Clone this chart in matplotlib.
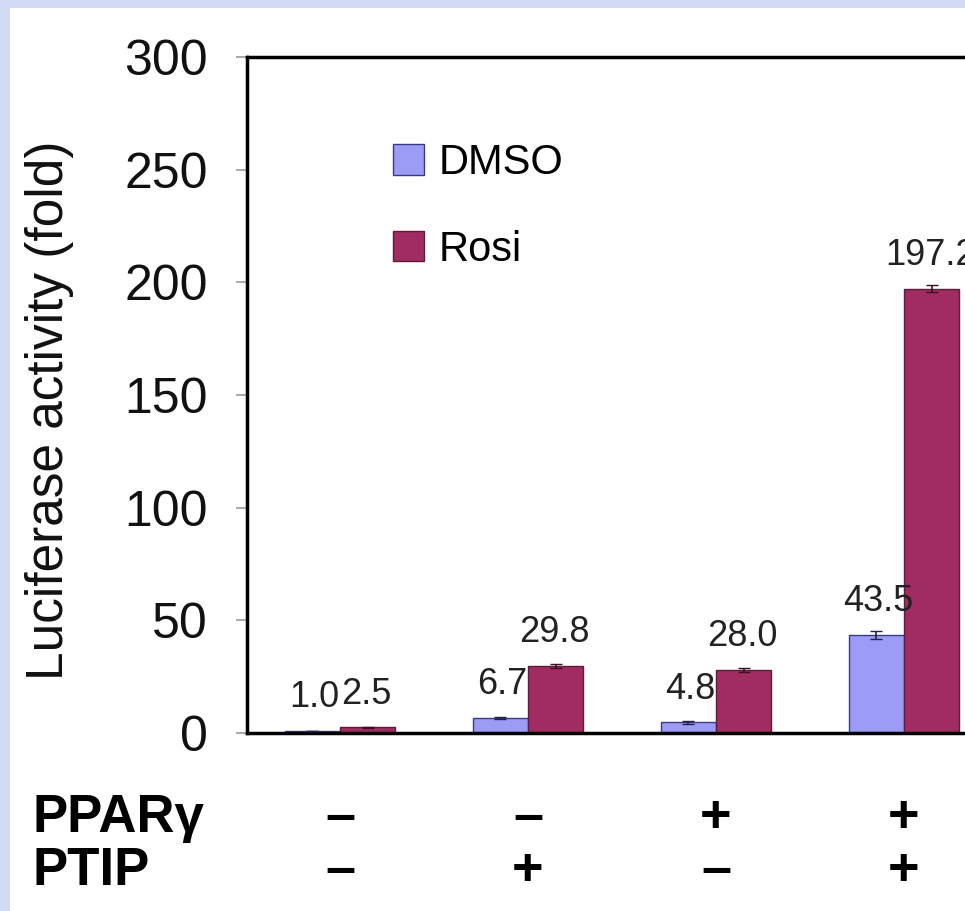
import matplotlib
matplotlib.use("Agg")
import matplotlib.pyplot as plt
import matplotlib.transforms as mtransforms
from matplotlib.patches import Rectangle, Patch
import numpy as np

plt.rcParams['font.family'] = ['Liberation Sans', 'DejaVu Sans']

# ---- data ----
groups = ["1", "2", "3", "4"]
dmso = [1.0, 6.7, 4.8, 43.5]
rosi = [2.5, 29.8, 28.0, 197.2]
dmso_err = [0.1, 0.6, 0.6, 1.8]
rosi_err = [0.3, 0.8, 0.8, 1.5]
dmso_labels = ["1.0", "6.7", "4.8", "43.5"]
rosi_labels = ["2.5", "29.8", "28.0", "197.2"]
ppar_signs = ["–", "–", "+", "+"]
ptip_signs = ["–", "+", "–", "+"]
yticks = [0, 50, 100, 150, 200, 250, 300]
series_names = ["DMSO", "Rosi"]

W, H = 965, 911
fig = plt.figure(figsize=(W / 100, H / 100), dpi=100)
fig.patch.set_facecolor('#D2DAF5')
fig.patches.append(Rectangle((10 / W, 0), 1 - 10 / W, (H - 8) / H,
                             transform=fig.transFigure, facecolor='white',
                             edgecolor='none', zorder=-10))

ax_left, ax_right = 247, 1005
ax_top, ax_bot = 57, 733
ax = fig.add_axes([ax_left / W, (H - ax_bot) / H, (ax_right - ax_left) / W, (ax_bot - ax_top) / H])
ax.set_facecolor('white')

x = np.arange(len(groups))
bw = 0.293
dmso_col = '#9C9CF6'
rosi_col = '#A02C62'
ax.bar(x - bw / 2, dmso, bw, color=dmso_col, edgecolor='#3A3A80', linewidth=1.0, zorder=2)
ax.bar(x + bw / 2, rosi, bw, color=rosi_col, edgecolor='#5A1E3A', linewidth=1.0, zorder=2)
ax.errorbar(x - bw / 2, dmso, yerr=dmso_err, fmt='none', ecolor='#222244', capsize=4, elinewidth=1.2, zorder=3)
ax.errorbar(x + bw / 2, rosi, yerr=rosi_err, fmt='none', ecolor='#3A1020', capsize=4, elinewidth=1.2, zorder=3)

for xi, v, lab in zip(x - bw / 2, dmso, dmso_labels):
    ax.annotate(lab, (xi, v), xytext=(1, 17), textcoords='offset points',
                ha='center', va='baseline', fontsize=26, color='#222222')
for xi, v, lab in zip(x + bw / 2, rosi, rosi_labels):
    ax.annotate(lab, (xi, v), xytext=(-1, 17), textcoords='offset points',
                ha='center', va='baseline', fontsize=26, color='#222222',
                annotation_clip=False)

ax.set_xlim((ax_left - 340) / 188, (ax_right - 340) / 188)
ax.set_ylim(0, 300)
ax.set_yticks(yticks)
ax.set_xticks([])
ax.tick_params(axis='y', length=8, width=1.2, color='#999999', labelcolor='#111111',
               labelsize=36, pad=20)
for s in ['left', 'bottom', 'top']:
    ax.spines[s].set_linewidth(2.5)
    ax.spines[s].set_color('black')
ax.spines['right'].set_visible(False)

fig.text(50 / W, (H - 410) / H, "Luciferase activity (fold)", rotation=90,
         ha='center', va='center', fontsize=37, color='#111111')

handles = [Patch(facecolor=dmso_col, edgecolor='#3A3A80'),
           Patch(facecolor=rosi_col, edgecolor='#5A1E3A')]
fig.legend(handles, series_names, loc='upper left', bbox_to_anchor=(393 / W, (H - 143) / H),
           frameon=False, fontsize=30, handlelength=0.75, handleheight=0.75,
           handletextpad=0.35, labelspacing=1.12, borderpad=0, borderaxespad=0)

# bottom condition table
blend = mtransforms.blended_transform_factory(ax.transData, fig.transFigure)
y_ppar = (H - 832) / H
y_ptip = (H - 885) / H
fig.text(33 / W, y_ppar, "PPARγ", fontsize=38, fontweight='bold', ha='left', va='baseline')
fig.text(33 / W, y_ptip, "PTIP", fontsize=38, fontweight='bold', ha='left', va='baseline')
for xi, s1, s2 in zip(x, ppar_signs, ptip_signs):
    ax.text(xi, y_ppar, s1, transform=blend, fontsize=39, fontweight='bold',
            ha='center', va='baseline', clip_on=False)
    ax.text(xi, y_ptip, s2, transform=blend, fontsize=39, fontweight='bold',
            ha='center', va='baseline', clip_on=False)

fig.savefig("out.png", dpi=100, facecolor=fig.get_facecolor())
